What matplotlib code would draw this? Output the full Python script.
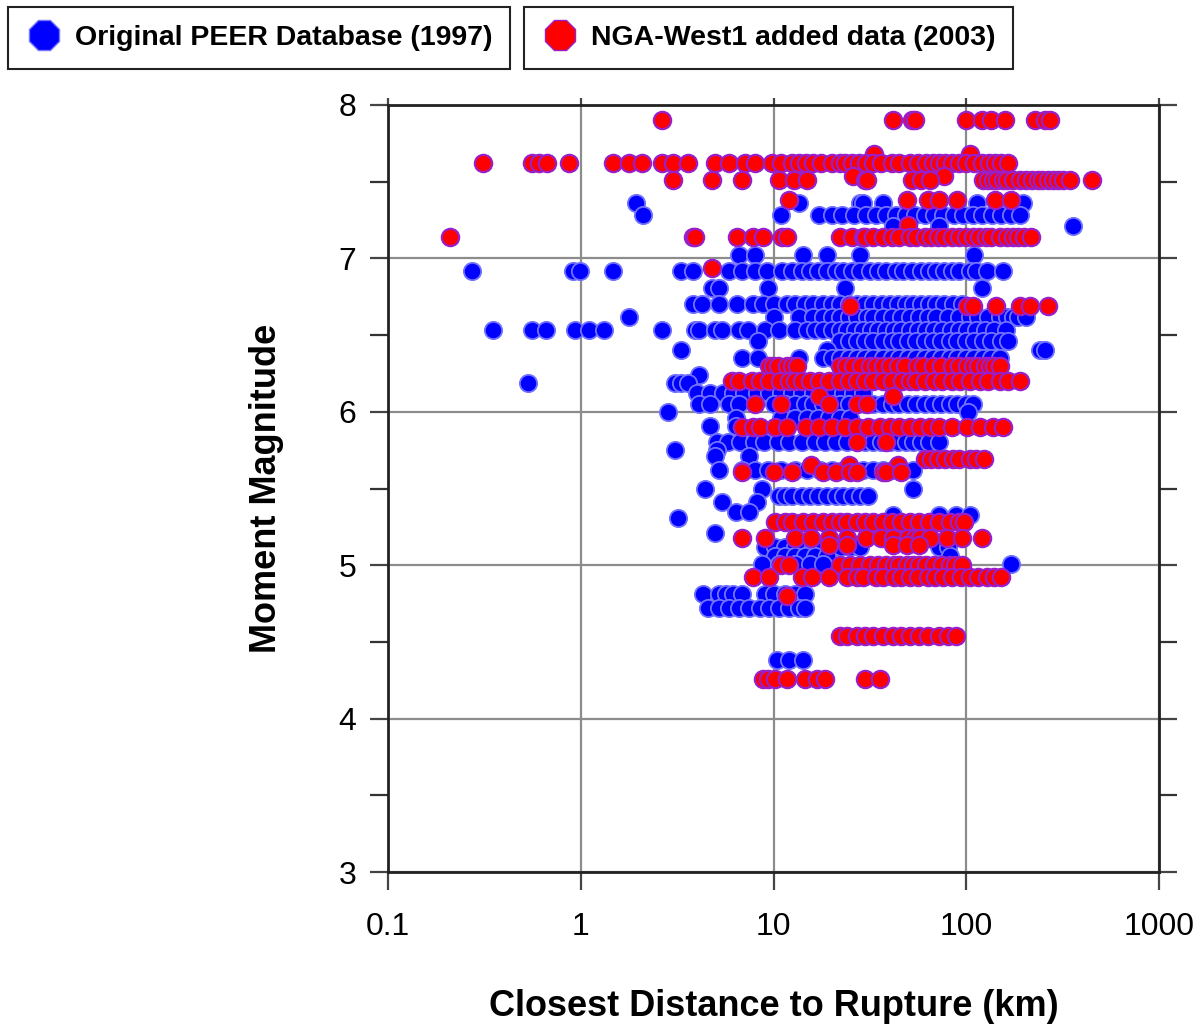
import matplotlib
matplotlib.use("Agg")
import matplotlib.pyplot as plt
from matplotlib.lines import Line2D
from matplotlib.ticker import NullLocator

# magnitude -> closest distances (km)
peer = {
    7.36: [1.93, 13.5, 28, 29, 37, 69, 114, 197],
    7.28: [2.1, 11, 17.3, 20.2, 22.7, 26.3, 30.3, 34, 38.5, 43, 48.5, 54, 61, 68, 76, 86, 96, 108, 121, 136, 152, 170, 190],
    7.21: [41.6, 72.6, 360],
    7.02: [6.6, 8.0, 14.2, 19, 28, 110],
    6.92: [0.273, 0.91, 0.99, 1.47, 3.3, 3.8, 5.9, 6.9, 8.0, 9.2, 11.1, 12.5, 14, 15.5, 17, 19, 21, 23, 25.5, 28,
           31.5, 35, 38.5, 43, 47, 52, 58, 64, 70, 77, 84, 92, 105, 112, 128, 155],
    6.81: [4.8, 5.2, 9.4, 23.4, 120],
    6.70: [3.8, 4.25, 5.2, 6.5, 7.8, 8.8, 10, 11.7, 13, 14.5, 16, 18, 20, 22, 24.5, 27, 30, 33, 36.5, 40, 44, 48.5,
           53, 58, 64, 70, 77, 85, 95],
    6.62: [1.79, 10, 13.5, 16, 18, 20, 22, 24.5, 27, 30.5, 33, 37, 41, 46, 51, 57, 63, 70, 80, 92, 105, 115, 130,
           150, 163, 175, 185, 205],
    6.53: [0.35, 0.56, 0.66, 0.93, 1.11, 1.32, 2.64, 3.9, 4.1, 4.95, 5.4, 6.6, 7.4, 9.0, 10.7, 12.9, 15, 16.5, 18,
           20, 22, 24, 26.5, 29, 32, 35, 38.5, 42, 46, 51, 56, 62, 68, 75, 83, 92, 101, 112, 125, 140, 160],
    6.46: [8.3, 22, 24.5, 27, 30, 33, 37, 41, 45, 50, 55, 61, 67, 74, 82, 90, 100, 110, 122, 135, 152, 165],
    6.40: [3.33, 19, 240, 255],
    6.35: [6.9, 8.3, 13.5, 18, 20, 22, 24.5, 27, 30, 33, 37, 41, 45, 50, 55, 61, 67, 74, 82, 90, 100, 110, 122, 135, 150],
    6.24: [4.1],
    6.19: [0.53, 3.1, 3.3, 3.6],
    6.12: [4.0, 4.7, 5.5, 6.2, 7.0, 8.2, 9.5, 11, 12.5, 14, 16, 18, 20, 23, 26, 29],
    6.05: [4.1, 4.7, 5.9, 6.6, 10, 11.5, 13, 14.5, 16, 18, 20, 22, 24.5, 27, 30, 33, 37, 41, 45, 50, 55, 61, 67, 74,
           82, 90, 100, 108],
    6.00: [2.85, 102],
    5.96: [6.4, 11, 13, 15, 17, 19.5, 22, 25],
    5.91: [4.7, 6.4],
    5.80: [5.1, 5.8, 6.7, 7.9, 8.9, 10.5, 12.1, 14.1, 16.5, 18.5, 21, 24, 27, 30, 33, 36, 40, 44, 48.5, 53, 58, 64, 72],
    5.75: [3.1, 5.1],
    5.71: [4.95, 7.5],
    5.62: [5.2, 6.9, 8.0, 9.4, 11, 13, 15, 17.5, 20, 23, 26, 29, 33, 37, 41, 46, 53],
    5.50: [4.4, 8.7, 53],
    5.45: [10.7, 11.5, 12.5, 14, 15.5, 17, 19, 21, 23, 25.5, 28, 31],
    5.41: [5.4, 8.2],
    5.35: [6.4, 7.5],
    5.33: [41.6, 72.6, 88, 104],
    5.31: [3.2],
    5.21: [4.95],
    5.12: [9.0, 10.2, 11.5, 13, 14.5, 16, 18, 20, 22.5, 25, 28, 72.6, 80],
    5.06: [10.2, 11.5, 13, 14.5, 16.5, 19, 82],
    5.01: [8.7, 10.7, 13, 15.5, 18, 171],
    4.81: [4.3, 5.2, 5.7, 6.2, 6.9, 9.0, 10, 11.5, 13, 14.5],
    4.72: [4.6, 5.2, 5.9, 6.6, 7.5, 8.5, 9.5, 10.7, 12.1, 13.6, 14.5],
    4.38: [10.4, 12.1, 14.2],
}

nga = {
    7.90: [2.64, 41.7, 52, 54, 100, 121, 134, 158, 228, 255, 271],
    7.68: [33.4, 104],
    7.62: [0.31, 0.56, 0.61, 0.67, 0.87, 1.47, 1.78, 2.08, 2.64, 3.0, 3.6, 4.95, 5.9, 7.1, 8.0, 9.8, 11, 12.5, 13.5,
           14.8, 16, 17.7, 20.2, 22, 23.4, 25.5, 27.9, 30.3, 33, 36, 41, 45, 50.8, 56, 62, 67, 72.6, 78, 84.5, 92,
           100, 110, 121, 131, 141, 152, 165],
    7.54: [25.7, 77],
    7.51: [3.0, 4.78, 6.9, 10.7, 12.85, 15, 29.7, 30.5, 52, 58.5, 64.5, 122, 130, 138, 145, 155, 163, 175, 190, 205,
           220, 235, 248, 265, 283, 300, 318, 346, 449],
    7.38: [12.1, 49, 63, 72.6, 90, 141, 170],
    7.22: [50],
    7.14: [0.21, 3.8, 3.9, 6.45, 7.8, 8.8, 11.1, 11.7, 22, 25.4, 29, 29.8, 33, 37, 41, 45, 51, 55, 61, 66, 71, 77,
           84, 92, 100, 108, 117, 126, 135, 150, 163, 175, 185, 200, 218],
    6.94: [4.8],
    6.69: [24.8, 101, 108, 143, 190, 214, 265],
    6.30: [9.5, 9.95, 10.5, 11.7, 12.5, 13.3, 22, 23.9, 26, 28.5, 31.5, 34, 37, 40, 44, 48, 55.5, 60, 67, 74, 84,
           92, 101, 108, 115, 125, 133, 140, 150],
    6.20: [6.07, 6.6, 7.7, 8.5, 9.5, 10.8, 12.1, 13, 14.1, 15.5, 17.3, 19.5, 22, 24.5, 27, 30, 33, 36.8, 41, 46.3,
           51, 55, 61, 68, 75, 84.5, 93, 105, 118, 130, 150, 165, 190],
    6.10: [17.3, 41.5],
    6.05: [8.0, 11, 19.5, 27, 30.5],
    5.90: [6.9, 7.8, 8.5, 10.2, 11.7, 14.8, 17.3, 20.2, 23.4, 27, 31, 35.5, 40, 45, 51, 57.5, 64.5, 72.6, 84.5, 101,
           118, 138, 155],
    5.80: [27, 38.5],
    5.69: [61, 66, 71, 78, 85, 92, 104, 113, 124],
    5.65: [15.7, 24.5, 44],
    5.61: [6.9, 10.0, 12.5, 18, 21, 25, 27, 37, 38.5, 46],
    5.28: [10.2, 11.5, 12.5, 14.2, 16, 18, 20, 22, 24, 27, 30, 33, 37, 41, 46, 51, 57, 64, 72, 82, 92, 97],
    5.18: [6.85, 9.0, 12.9, 15.7, 19.5, 24.2, 30.3, 36, 41.6, 50, 54, 57.5, 64.5, 79, 95, 121],
    5.13: [19.5, 24, 41.6, 49, 57],
    5.00: [11, 12.1, 22, 25, 28, 31.5, 35, 38.5, 42, 45, 49, 53, 57, 62, 68, 75, 82, 87, 95],
    4.92: [7.8, 9.5, 14.1, 15.9, 19.5, 24.2, 27, 29, 34, 37, 42, 46, 51, 56, 63, 69, 76, 84, 94, 104, 115, 128,
           140, 152],
    4.80: [11.7],
    4.54: [22, 24, 27, 30, 33, 37, 41.6, 46, 51, 57, 63, 72, 80, 88],
    4.26: [8.8, 9.4, 10.2, 11.7, 14.5, 16.8, 18.5, 29.8, 35.5],
}

x_ticks = [0.1, 1, 10, 100, 1000]
x_labels = ["0.1", "1", "10", "100", "1000"]
y_ticks = [3, 4, 5, 6, 7, 8]
y_minor = [3.5, 4.5, 5.5, 6.5, 7.5]

plt.rcParams["font.family"] = ["Liberation Sans", "DejaVu Sans"]

fig = plt.figure(figsize=(11.95, 10.30), dpi=100)
ax = fig.add_axes([388 / 1195, 158 / 1030, 771 / 1195, 767 / 1030])

px, py = [], []
for m, ds in peer.items():
    px += ds
    py += [m] * len(ds)
nx, ny = [], []
for m, ds in nga.items():
    nx += ds
    ny += [m] * len(ds)

ax.scatter(px, py, s=155, c="#0000ff", edgecolors="#7373ff", linewidths=1.3, zorder=3)
ax.scatter(nx, ny, s=155, c="#ff0000", edgecolors="#9a1fc8", linewidths=1.6, zorder=4)

ax.set_xscale("log")
ax.set_xlim(0.1, 1000)
ax.set_ylim(3, 8)
ax.set_xticks(x_ticks)
ax.set_xticklabels(x_labels)
ax.xaxis.set_minor_locator(NullLocator())
ax.set_yticks(y_ticks)
ax.set_yticks(y_minor, minor=True)

ax.grid(True, which="major", color="#8c8c8c", lw=1.6, zorder=1)
ax.tick_params(axis="y", which="major", direction="out", length=13, width=1.6, color="#444444",
               left=True, right=True, labelsize=23, pad=10)
ax.tick_params(axis="y", which="minor", direction="out", length=13, width=1.6, color="#333333",
               left=True, right=True)
ax.tick_params(axis="x", which="major", direction="out", length=13, width=1.6, color="#444444",
               top=True, bottom=True, labelsize=23, pad=16)
for t in ax.xaxis.get_major_ticks():
    t.tick2line.set_markersize(5)

for sp in ax.spines.values():
    sp.set_linewidth(2)
    sp.set_color("#222222")

ax.set_xlabel("Closest Distance to Rupture (km)", fontsize=26, fontweight="bold")
ax.set_ylabel("Moment Magnitude", fontsize=26, fontweight="bold")
ax.xaxis.set_label_coords(0.5, -0.152)
ax.yaxis.set_label_coords(-0.135, 0.5)

h1 = Line2D([], [], ls="none", marker="8", markersize=23, color="#0000ff", markeredgecolor="#7373ff")
h2 = Line2D([], [], ls="none", marker="8", markersize=23, color="#ff0000", markeredgecolor="#9a1fc8")
for h, lab, x0 in [(h1, "Original PEER Database (1997)", 8), (h2, "NGA-West1 added data (2003)", 524)]:
    lg = fig.legend([h], [lab], loc="upper left", bbox_to_anchor=(x0 / 1195, 1 - 7 / 1030),
                    prop={"size": 20.5, "weight": "bold"}, fancybox=False, framealpha=1,
                    edgecolor="#222222", handletextpad=0.45, borderpad=0.64, handlelength=1.25,
                    borderaxespad=0)
    lg.get_frame().set_linewidth(1.5)

fig.savefig("out.png", dpi=100)
